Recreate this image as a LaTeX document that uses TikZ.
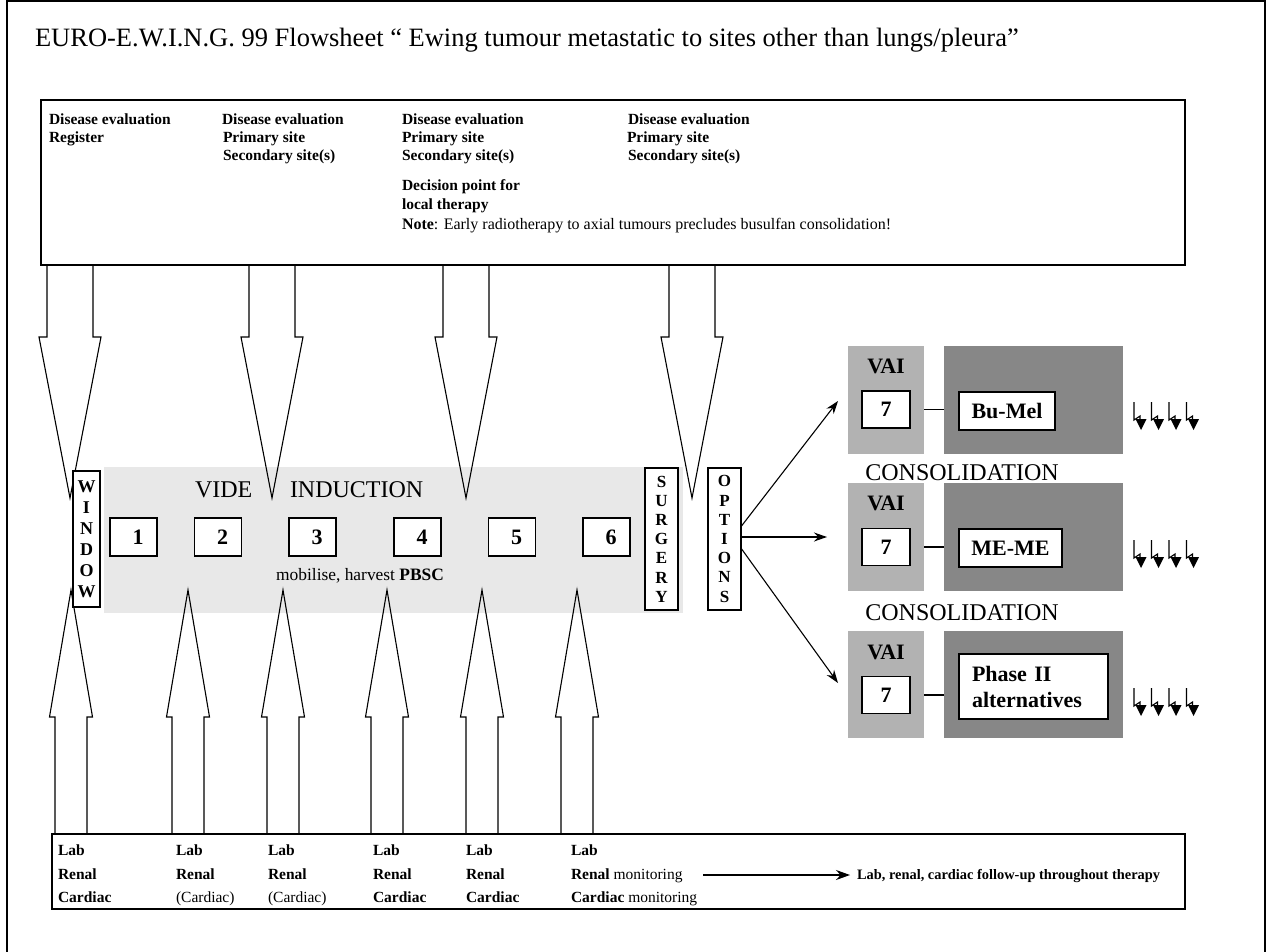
\documentclass[tikz,border=0pt]{standalone}
\usepackage{fontspec}
\setmainfont{Liberation Serif}
\usetikzlibrary{arrows.meta,backgrounds}
\definecolor{indgray}{HTML}{E8E8E8}
\definecolor{vaigray}{HTML}{B2B2B2}
\definecolor{dkgray}{HTML}{878787}
\tikzset{
  flashes/.pic={
    \foreach \k in {0,17.5,35,52.5}{
      \draw[line width=1.1pt,line join=miter] (\k,0) -- (\k,18) -- ({\k+6},14) -- ({\k+6},19);
      \fill ({\k+1.5},17) -- ({\k+12.5},17) -- ({\k+7},28) -- cycle;
    }
  }
}
\begin{document}
\begin{tikzpicture}[x=1pt,y=-1pt,
  every node/.style={inner sep=0pt,outer sep=0pt},
  hdr/.style={anchor=west,text height=11pt,text depth=3pt,font=\fontsize{15.5}{18}\selectfont\bfseries},
  lab/.style={anchor=west,text height=11pt,text depth=3pt,font=\fontsize{15.5}{18}\selectfont},
  numbox/.style={draw,line width=1.2pt,fill=white,minimum width=47pt,minimum height=38pt,font=\fontsize{22}{22}\selectfont\bfseries},
  vbox/.style={draw,line width=1.2pt,fill=white,minimum width=33pt,minimum height=142pt,align=center,font=\fontsize{17}{19.2}\selectfont\bfseries},
  hollow/.style={draw,line width=1.1pt,line join=miter},
  fan/.style={line width=1.1pt,-{Stealth[length=13pt,width=9pt]}},
  vaibox/.style={fill=vaigray,minimum width=76pt,minimum height=108pt},
  darkbox/.style={fill=dkgray,minimum width=179pt,minimum height=108pt},
  sevbox/.style={draw,line width=1.2pt,fill=white,minimum width=48pt,minimum height=37pt,font=\fontsize{22}{22}\selectfont\bfseries},
  regbox/.style={draw,line width=1.2pt,fill=white,minimum height=38pt,font=\fontsize{22}{22}\selectfont\bfseries},
  big/.style={font=\fontsize{24}{24}\selectfont},
  vailab/.style={anchor=base,font=\fontsize{22}{22}\selectfont\bfseries},
  link/.style={line width=1.2pt}
]
\useasboundingbox (0,0) rectangle (1268,952);
% outer frame
\draw[line width=2pt] (7,952) -- (7,1) -- (1265,1) -- (1265,952);

% title
\node[anchor=base west,font=\fontsize{26.5}{26.5}\selectfont] (title) at (35,47)
  {EURO-E.W.I.N.G. 99 Flowsheet “ Ewing tumour metastatic to sites other than lungs/pleura”};

% top box
\node[draw,line width=1.4pt,minimum width=1144pt,minimum height=165pt] (top) at (613,182.5) {};
\node[hdr] (h11) at (49,121) {Disease evaluation};
\node[hdr] (h12) at (49,139) {Register};
\node[hdr] (h21) at (222,121) {Disease evaluation};
\node[hdr] (h22) at (223,139) {Primary site};
\node[hdr] (h23) at (223,157) {Secondary site(s)};
\node[hdr] (h31) at (402,121) {Disease evaluation};
\node[hdr] (h32) at (402,139) {Primary site};
\node[hdr] (h33) at (402,157) {Secondary site(s)};
\node[hdr] (h34) at (402,187) {Decision point for};
\node[hdr] (h35) at (402,205) {local therapy};
\node[hdr] (h41) at (628,121) {Disease evaluation};
\node[hdr] (h42) at (627,139) {Primary site};
\node[hdr] (h43) at (628,157) {Secondary site(s)};
\node[lab,font=\fontsize{16}{18}\selectfont] (note) at (402,225)
  {\textbf{Note}: Early radiotherapy to axial tumours precludes busulfan consolidation!};

% bottom box
\node[draw,line width=1.4pt,minimum width=1133pt,minimum height=75pt] (bot) at (618.5,871.5) {};

\begin{pgfonlayer}{background}
  \fill[indgray] (104,467) rectangle (683,613);
  \foreach \c in {70,272,466,692}
    \draw[hollow] ({\c-23},265) -- ({\c-23},337) -- ({\c-31},337) -- (\c,498) -- ({\c+31},337) -- ({\c+23},337) -- ({\c+23},265);
  \foreach \c in {71,188,283,387,482,577}
    \draw[hollow] ({\c-16},834) -- ({\c-16},717) -- ({\c-21.5},717) -- (\c,590) -- ({\c+21.5},717) -- ({\c+16},717) -- ({\c+16},834);
  \coordinate (fan0) at (733,537);
  \coordinate (e1) at (838,401);
  \coordinate (e2) at (827,537);
  \coordinate (e3) at (838,683);
  \draw[fan] (fan0) -- (e1);
  \draw[fan] (fan0) -- (e2);
  \draw[fan] (fan0) -- (e3);
\end{pgfonlayer}

% induction
\node[anchor=base west,big] (vide) at (195,497) {VIDE};
\node[anchor=base west,big] (induct) at (290,497) {INDUCTION};
\node[vbox,minimum width=27pt,minimum height=136pt,font=\fontsize{18}{21}\selectfont\bfseries] (win) at (86.5,539) {W\\I\\N\\D\\O\\W};
\node[numbox] (n1) at (133.5,537) {\hspace*{9pt}1};
\node[numbox] (n2) at (218,537) {\hspace*{9pt}2};
\node[numbox] (n3) at (312.5,537) {\hspace*{9pt}3};
\node[numbox] (n4) at (417.5,537) {\hspace*{9pt}4};
\node[numbox] (n5) at (512,537) {\hspace*{9pt}5};
\node[numbox] (n6) at (606.5,537) {\hspace*{9pt}6};
\node[anchor=base,font=\fontsize{17.4}{20}\selectfont] (mob) at (360,580) {mobilise, harvest \textbf{PBSC}};
\node[vbox] (sur) at (661.5,539) {S\\U\\R\\G\\E\\R\\Y};
\node[vbox] (opt) at (724.5,539) {O\\P\\T\\I\\O\\N\\S};

% consolidation labels
\node[anchor=base,big] (c1) at (962,480.5) {CONSOLIDATION};
\node[anchor=base,big] (c2) at (962,620.5) {CONSOLIDATION};

% row 1
\node[vaibox] (v1) at (886,400) {};
\node[darkbox] (d1) at (1033.5,400) {};
\node[vailab] (vl1) at (886,373) {VAI};
\node[sevbox] (s1) at (886,409.5) {7};
\node[regbox,minimum width=96pt] (r1) at (1007,411) {Bu-Mel};
\draw[link] (s1.east -| v1.east) -- (s1.east -| d1.west);
\pic at (1134,402) {flashes};

% row 2
\node[vaibox] (v2) at (886,537) {};
\node[darkbox] (d2) at (1033.5,537) {};
\node[vailab] (vl2) at (886,510) {VAI};
\node[sevbox] (s2) at (886,547) {7};
\node[regbox,minimum width=103pt] (r2) at (1010.5,548) {ME-ME};
\draw[link] (s2.east -| v2.east) -- (s2.east -| d2.west);
\pic at (1134,540) {flashes};

% row 3
\node[vaibox,minimum height=107pt] (v3) at (886,684.5) {};
\node[darkbox,minimum height=107pt] (d3) at (1033.5,684.5) {};
\node[vailab] (vl3) at (886,659) {VAI};
\node[sevbox] (s3) at (886,695) {7};
\node[draw,line width=1.2pt,fill=white,minimum width=149pt,minimum height=65pt,text width=123pt,align=left,font=\fontsize{22}{26}\selectfont\bfseries] (r3) at (1033.5,686.5) {Phase II\\alternatives};
\draw[link] (s3.east -| v3.east) -- (s3.east -| d3.west);
\pic at (1134,688) {flashes};

% bottom labels
\node[hdr] (b11) at (58,851) {Lab};
\node[hdr] (b12) at (58,875) {Renal};
\node[hdr] (b13) at (58,898) {Cardiac};
\node[hdr] (b21) at (176,851) {Lab};
\node[hdr] (b22) at (176,875) {Renal};
\node[lab] (b23) at (176,898) {(Cardiac)};
\node[hdr] (b31) at (268,851) {Lab};
\node[hdr] (b32) at (268,875) {Renal};
\node[lab] (b33) at (268,898) {(Cardiac)};
\node[hdr] (b41) at (373,851) {Lab};
\node[hdr] (b42) at (373,875) {Renal};
\node[hdr] (b43) at (373,898) {Cardiac};
\node[hdr] (b51) at (466,851) {Lab};
\node[hdr] (b52) at (466,875) {Renal};
\node[hdr] (b53) at (466,898) {Cardiac};
\node[hdr] (b61) at (571,851) {Lab};
\node[lab] (b62) at (571,875) {\textbf{Renal} monitoring};
\node[lab] (b63) at (571,898) {\textbf{Cardiac} monitoring};
\node[hdr,font=\fontsize{14.4}{17}\selectfont\bfseries] (fu) at (857,875) {Lab, renal, cardiac follow-up throughout therapy};
\coordinate (fus) at (703,875);
\draw[line width=1.2pt,-{Stealth[length=14pt,width=10pt]},shorten >=7pt] (fus) -- (fu.west);
\end{tikzpicture}
\end{document}
